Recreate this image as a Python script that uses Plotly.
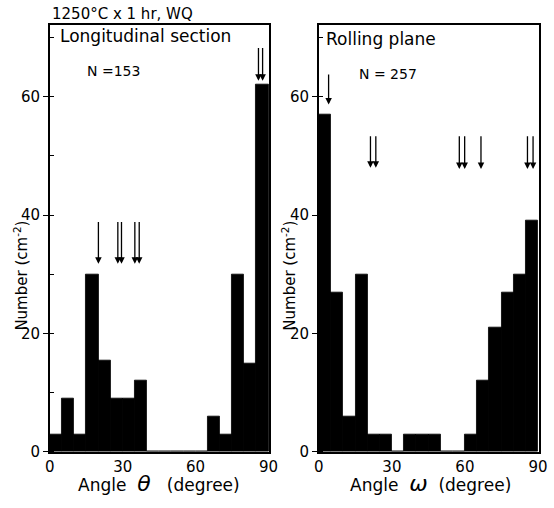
import plotly.graph_objects as go

# ---- data ----
bin_centers = [2.5, 7.5, 12.5, 17.5, 22.5, 27.5, 32.5, 37.5, 42.5, 47.5,
               52.5, 57.5, 62.5, 67.5, 72.5, 77.5, 82.5, 87.5]
theta_counts = [3, 9, 3, 30, 15.5, 9, 9, 12, 0, 0, 0, 0, 0, 6, 3, 30, 15, 62]
omega_counts = [57, 27, 6, 30, 3, 3, 0, 3, 3, 3, 0, 0, 3, 12, 21, 27, 30, 39]
bin_width = 5

theta_arrow_x = [20, 28, 29.5, 35, 36.8, 85.9, 87.6]
theta_arrow_tip = [31.8, 31.8, 31.8, 31.8, 31.8, 62.7, 62.7]
theta_arrow_tail = [39.1, 39.1, 39.1, 39.1, 39.1, 68.5, 68.5]

omega_arrow_x = [4, 21.2, 23.4, 57.7, 59.9, 66.6, 85.7, 88]
omega_arrow_tip = [58.7, 48, 48, 47.8, 47.8, 47.8, 47.8, 47.8]
omega_arrow_tail = [64, 53.6, 53.6, 53.6, 53.6, 53.6, 53.6, 53.6]

x_ticks = [0, 30, 60, 90]
y_ticks = [0, 20, 40, 60]

FONT = "DejaVu Sans"
W, H = 554, 508

fig = go.Figure()
fig.add_trace(go.Bar(x=bin_centers, y=theta_counts, width=bin_width,
                     marker=dict(color="black", line=dict(width=0.8, color="black")),
                     xaxis="x", yaxis="y", showlegend=False))
fig.add_trace(go.Bar(x=bin_centers, y=omega_counts, width=bin_width,
                     marker=dict(color="black", line=dict(width=0.8, color="black")),
                     xaxis="x2", yaxis="y2", showlegend=False))

def px_x(v):
    return v / W

def px_y(v):
    return 1 - v / H

axis_common = dict(showline=True, linecolor="black", linewidth=1.5, mirror=True,
                   showgrid=False, zeroline=False,
                   tickfont=dict(family=FONT, size=15, color="black"))

fig.update_layout(
    width=W, height=H,
    margin=dict(l=0, r=0, t=0, b=0),
    paper_bgcolor="white", plot_bgcolor="white",
    bargap=0,
    xaxis=dict(domain=[px_x(46), px_x(271)], range=[0, 90.3], tickvals=x_ticks,
               ticks="", anchor="y", **axis_common),
    yaxis=dict(domain=[px_y(460), px_y(25)], range=[0, 72.2], tickvals=y_ticks,
               ticks="outside", ticklen=5, tickcolor="black", tickwidth=1.2,
               minor=dict(dtick=10, ticks="inside", ticklen=4, tickcolor="black"),
               anchor="x", **axis_common),
    xaxis2=dict(domain=[px_x(322), px_x(547.5)], range=[0, 90.3], tickvals=x_ticks,
                ticks="", anchor="y2", **axis_common),
    yaxis2=dict(domain=[px_y(460), px_y(25)], range=[0, 72.2], tickvals=y_ticks,
                ticks="outside", ticklen=5, tickcolor="black", tickwidth=1.2,
                minor=dict(dtick=10, ticks="inside", ticklen=4, tickcolor="black"),
                anchor="x2", **axis_common),
)

ann = []
for xv, tip, tail in zip(theta_arrow_x, theta_arrow_tip, theta_arrow_tail):
    ann.append(dict(x=xv, y=tip, ax=xv, ay=tail, xref="x", yref="y", axref="x", ayref="y",
                    text="", showarrow=True, arrowhead=2, arrowsize=1.0, arrowwidth=1.3,
                    arrowcolor="black", standoff=0))
for xv, tip, tail in zip(omega_arrow_x, omega_arrow_tip, omega_arrow_tail):
    ann.append(dict(x=xv, y=tip, ax=xv, ay=tail, xref="x2", yref="y2", axref="x2", ayref="y2",
                    text="", showarrow=True, arrowhead=2, arrowsize=1.0, arrowwidth=1.3,
                    arrowcolor="black", standoff=0))

def label(text, x, y, size=14, angle=0, xanchor="left"):
    return dict(text=text, x=px_x(x), y=px_y(y), xref="paper", yref="paper",
                showarrow=False, xanchor=xanchor, yanchor="middle", textangle=angle,
                font=dict(family=FONT, size=size, color="black"))

ann += [
    label("1250°C x 1 hr, WQ", 46, 14, 15),
    label("Longitudinal section", 54, 37, 17),
    label("N =153", 82, 72, 14),
    label("Rolling plane", 327, 40, 17),
    label("N = 257", 361, 75, 14),
    label("Angle  <i><span style='font-size:22px'>θ</span></i>   (degree)", 158, 492, 17, xanchor="center"),
    label("Angle  <i><span style='font-size:22px'>ω</span></i>  (degree)", 437, 492, 17, xanchor="center"),
    label("Number (cm<sup>-2</sup>)", 16, 281, 15, angle=-90, xanchor="center"),
    label("Number (cm<sup>-2</sup>)", 291, 281, 15, angle=-90, xanchor="center"),
]
fig.update_layout(annotations=ann)

fig.write_html("out.html", config={"displayModeBar": False},
               post_script="document.body.style.margin='0px';")
